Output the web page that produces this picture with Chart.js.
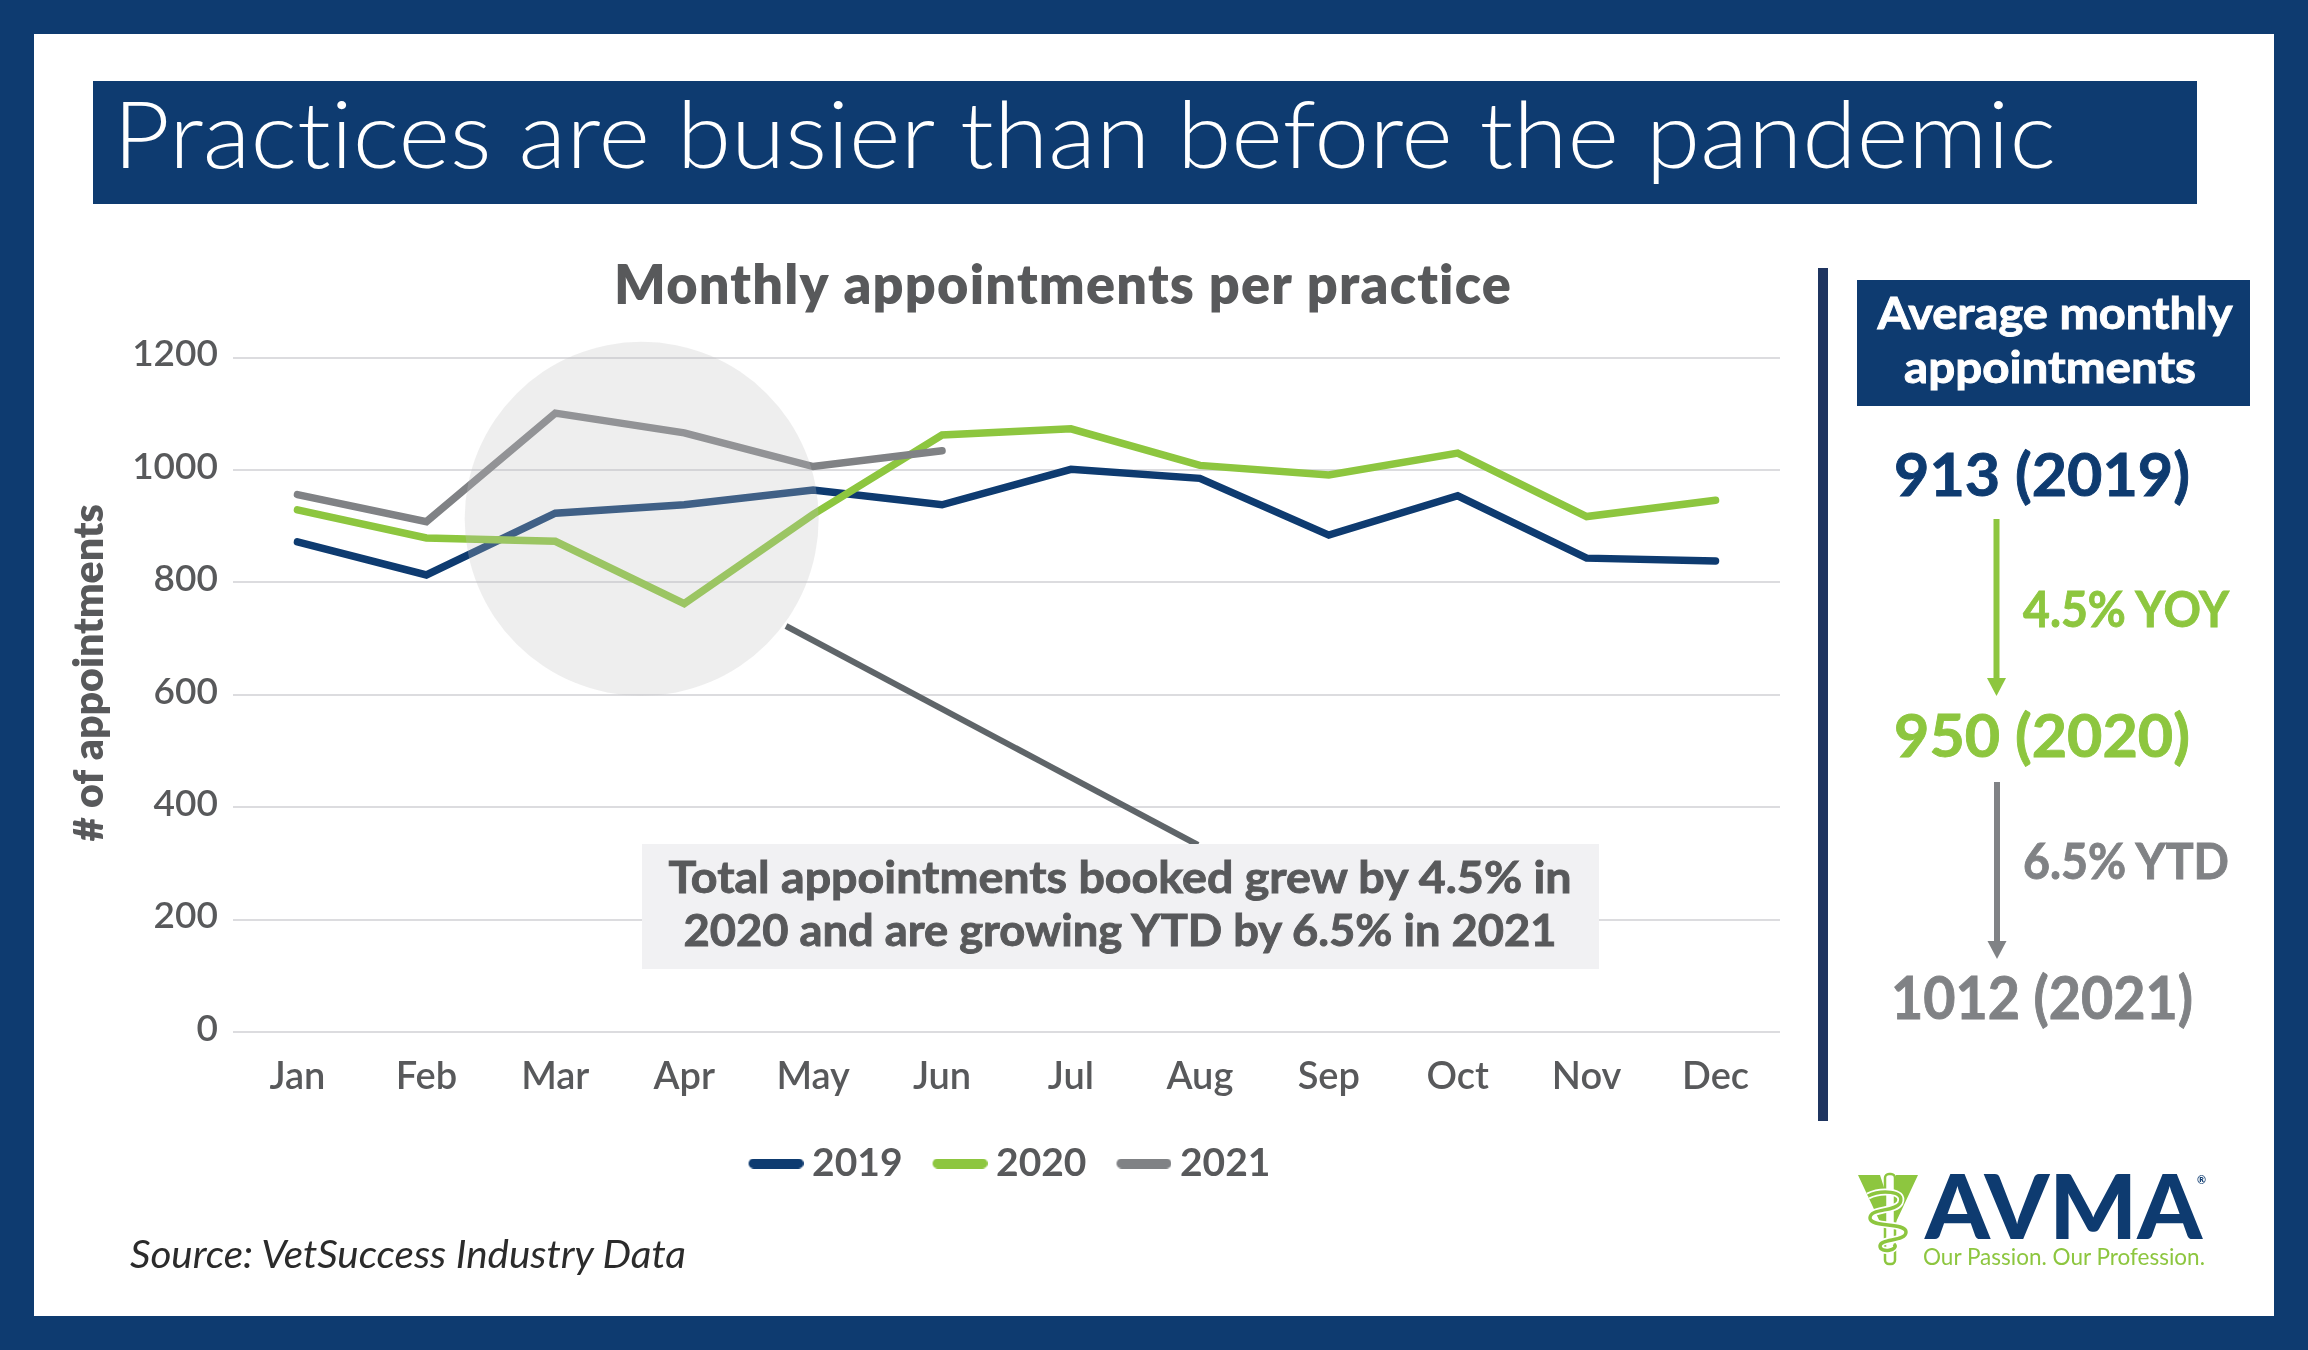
<!DOCTYPE html>
<html><head><meta charset="utf-8">
<script src="https://cdn.jsdelivr.net/npm/chart.js@4"></script>
<style>
html,body{margin:0;padding:0;background:#0e3b70;overflow:hidden}
#page{position:relative;width:2308px;height:1350px;background:#0e3b70}
#inner{position:absolute;left:34px;top:34px;width:2240px;height:1282px;background:#fff}
canvas{position:absolute;left:0;top:0}
svg{position:absolute;left:0;top:0}
text{font-family:Lato,sans-serif;font-variant-ligatures:none}
.b{stroke-width:.9px}
</style></head><body>
<div id="page"><div id="inner"></div>
<canvas id="c" width="2308" height="1350"></canvas>
<svg width="2308" height="1350" viewBox="0 0 2308 1350">
 <rect x="93" y="81" width="2104" height="123" fill="#0e3b70"/>
 <text x="113" y="168" font-size="92" font-weight="300" fill="#fff" textLength="1943" lengthAdjust="spacingAndGlyphs">Practices are busier than before the pandemic</text>
 <line x1="786" y1="626" x2="1198" y2="845" stroke="#5f6569" stroke-width="6"/>
 <rect x="642" y="844" width="957" height="125" fill="#f1f1f3"/>
 <text class="b" stroke="#58595b" x="1120" y="893" text-anchor="middle" font-size="44" font-weight="700" fill="#58595b" textLength="903" lengthAdjust="spacingAndGlyphs">Total appointments booked grew by 4.5% in</text>
 <text class="b" stroke="#58595b" x="1120" y="946" text-anchor="middle" font-size="44" font-weight="700" fill="#58595b" textLength="873" lengthAdjust="spacingAndGlyphs">2020 and are growing YTD by 6.5% in 2021</text>
 <text x="130" y="1268" font-size="38" font-style="italic" font-weight="400" fill="#2b2b2b" textLength="556" lengthAdjust="spacingAndGlyphs">Source: VetSuccess Industry Data</text>

 <rect x="1818" y="268" width="10" height="853" fill="#1f3560"/>
 <rect x="1857" y="280" width="393" height="126" fill="#0e3b70"/>
 <text class="b" stroke="#fff" x="2055" y="329" text-anchor="middle" font-size="44" font-weight="700" fill="#fff" textLength="355" lengthAdjust="spacingAndGlyphs">Average monthly</text>
 <text class="b" stroke="#fff" x="2050" y="383" text-anchor="middle" font-size="44" font-weight="700" fill="#fff" textLength="292" lengthAdjust="spacingAndGlyphs">appointments</text>
 <text class="b" stroke="#0e3b70" x="2042" y="496" text-anchor="middle" font-size="60" font-weight="700" fill="#0e3b70" textLength="296" lengthAdjust="spacingAndGlyphs">913 (2019)</text>
 <rect x="1993.5" y="519" width="6" height="162" fill="#8dc63f"/>
 <polygon points="1987,678 2006,678 1996.5,696" fill="#8dc63f"/>
 <text class="b" stroke="#8dc63f" x="2023" y="627" font-size="50" font-weight="700" fill="#8dc63f" textLength="206" lengthAdjust="spacingAndGlyphs">4.5% YOY</text>
 <text class="b" stroke="#8dc63f" x="2042" y="757" text-anchor="middle" font-size="60" font-weight="700" fill="#8dc63f" textLength="296" lengthAdjust="spacingAndGlyphs">950 (2020)</text>
 <rect x="1994" y="782" width="6" height="160" fill="#808285"/>
 <polygon points="1987.5,941 2006.5,941 1997,959" fill="#808285"/>
 <text class="b" stroke="#808285" x="2023" y="879" font-size="50" font-weight="700" fill="#808285" textLength="206" lengthAdjust="spacingAndGlyphs">6.5% YTD</text>
 <text class="b" stroke="#808285" x="2042" y="1019" text-anchor="middle" font-size="60" font-weight="700" fill="#808285" textLength="302" lengthAdjust="spacingAndGlyphs">1012 (2021)</text>

 <polygon points="1858,1175 1880,1175 1888,1200 1896,1175 1918,1175 1896,1222 1880,1222" fill="#8dc63f"/>
 <rect x="1885" y="1174" width="10" height="90" rx="4" fill="#fff" stroke="#8dc63f" stroke-width="2.5"/>
 <path d="M1868 1196 C1880 1190 1906 1190 1900 1203 C1895 1212 1870 1208 1870 1218 C1870 1228 1906 1222 1906 1232 C1906 1242 1880 1238 1880 1246 C1880 1254 1900 1250 1894 1244" fill="none" stroke="#fff" stroke-width="7"/>
 <path d="M1868 1196 C1880 1190 1906 1190 1900 1203 C1895 1212 1870 1208 1870 1218 C1870 1228 1906 1222 1906 1232 C1906 1242 1880 1238 1880 1246 C1880 1254 1900 1250 1894 1244" fill="none" stroke="#8dc63f" stroke-width="3.5"/>
 <text x="1925" y="1239" font-size="89" font-weight="900" fill="#0e3b70" textLength="277" lengthAdjust="spacingAndGlyphs">AVMA</text>
 <text x="2197" y="1184" font-size="11" font-weight="700" fill="#0e3b70">®</text>
 <text x="1923" y="1265" font-size="24" font-weight="400" fill="#8dc63f" textLength="282" lengthAdjust="spacingAndGlyphs">Our Passion. Our Profession.</text>
</svg></div>
<script>
const categories=['Jan','Feb','Mar','Apr','May','Jun','Jul','Aug','Sep','Oct','Nov','Dec'];
const values2019=[872,813,923,938,964,938,1001,985,884,954,843,838];
const values2020=[929,879,873,762,921,1062,1073,1008,991,1030,917,946];
const values2021=[956,908,1101,1066,1006,1034];
const yTicks=[0,200,400,600,800,1000,1200];
const NAVY='#0e3b70',GREEN='#8dc63f',GRAY='#808285',TXT='#58595b';

function swatch(color){
  const c=document.createElement('canvas');c.width=66;c.height=10;
  const x=c.getContext('2d');x.fillStyle=color;x.beginPath();x.roundRect(11,0,55,10,5);x.fill();
  return c;
}
const ds=(label,data,color,order)=>({label,data,borderColor:color,backgroundColor:color,borderWidth:7.5,
  borderCapStyle:'round',borderJoinStyle:'miter',tension:0,pointRadius:0,pointHoverRadius:0,pointStyle:swatch(color),fill:false,order});

const annotate={id:'annotate',
  afterLayout(chart){
    const t=chart.titleBlock;const shift=1063-(t.left+t.right)/2;t.left+=shift;t.right+=shift;
    if(!t._wrapped){const od=t.draw;t.draw=function(){const g=this.ctx;g.letterSpacing='1.2px';od.apply(this,arguments);g.letterSpacing='0px';};t._wrapped=true;}
    const y=chart.scales.y;
    if(!y._wrapped){
      const o=y.drawTitle;y.drawTitle=function(){const g=this.ctx;g.save();g.translate(0,-22);o.apply(this,arguments);g.restore();};
      const oc=y._computeLabelItems;y._computeLabelItems=function(a){const r=oc.call(this,a);r.forEach(i=>{i.options.translation[1]-=3;});return r;};
      y._labelItems=null;y._wrapped=true;
    }
    const l=chart.legend;l.top+=0.5;l.bottom+=0.5;l.left+=3;l.right+=3;
  },
  afterDatasetsDraw(chart){
    const {ctx,scales:{x,y}}=chart;
    ctx.save();ctx.fillStyle='rgba(195,195,195,0.28)';ctx.beginPath();
    ctx.arc(x.getPixelForValue(2.67),y.getPixelForValue(913),177,0,Math.PI*2);ctx.fill();ctx.restore();
  }};

new Chart(document.getElementById('c'),{type:'line',
 data:{labels:categories,datasets:[ds('2019',values2019,NAVY,3),ds('2020',values2020,GREEN,2),ds('2021',values2021,GRAY,1)]},
 plugins:[annotate],
 options:{responsive:false,devicePixelRatio:1,animation:false,
  layout:{padding:{left:60,right:528,top:0,bottom:157.5}},
  plugins:{tooltip:{enabled:false},
   title:{display:true,text:'Monthly appointments per practice',color:TXT,font:{family:'Lato',size:54,weight:'800'},padding:{top:254,bottom:38.7}},
   legend:{position:'bottom',fullSize:false,labels:{usePointStyle:true,pointStyleWidth:44,color:TXT,font:{family:'Lato',size:39,weight:'700'},padding:30,sort:(a,b)=>a.datasetIndex-b.datasetIndex}}},
  scales:{
   x:{offset:true,grid:{display:false},border:{display:false},ticks:{color:TXT,font:{family:'Lato',size:38,weight:'600'},padding:14,maxRotation:0}},
   y:{min:0,max:1200,afterBuildTicks(s){s.ticks=yTicks.map(v=>({value:v}));},afterFit(s){s.width=173;},
      grid:{color:'#dcdcdf',lineWidth:2,drawTicks:false},border:{display:false},
      ticks:{color:TXT,font:{family:'Lato',size:37,weight:'600'},padding:15,callback:v=>String(v)},
      title:{display:true,text:'# of appointments',color:TXT,font:{family:'Lato',size:41,weight:'800'},padding:{top:5,bottom:0}}}
  }}});
</script></body></html>
